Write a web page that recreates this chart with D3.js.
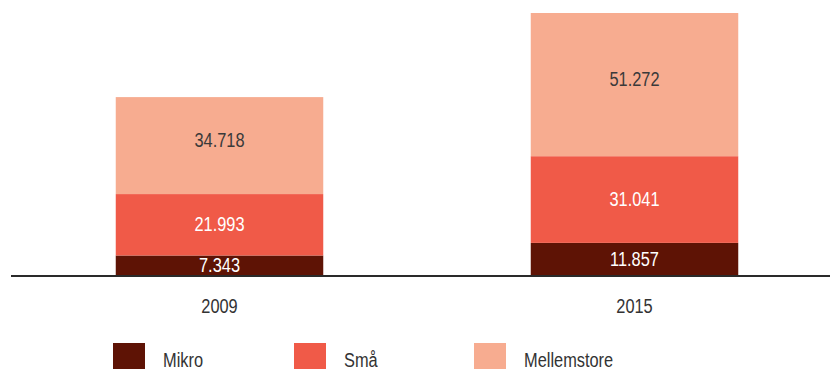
<!DOCTYPE html>
<html>
<head>
<meta charset="utf-8">
<script src="https://cdn.jsdelivr.net/npm/d3@7"></script>
<style>
  html, body { margin: 0; padding: 0; background: #fff; }
  svg { display: block; font-family: "Liberation Sans", Arial, sans-serif; }
</style>
</head>
<body>
<svg id="chart" width="830" height="369"></svg>
<script>
// Virksomheder fordelt på størrelse
const years = ["2009", "2015"];
const seriesNames = ["Mikro", "Små", "Mellemstore"];
const mikro = [7343, 11857];
const smaa = [21993, 31041];
const mellemstore = [34718, 51272];
const colors = ["#5e1305", "#f05a48", "#f7ac90"];
const labelColors = ["#ffffff", "#ffffff", "#3a3a3a"];

const fmt = v => d3.format(",")(v).replace(/,/g, ".");
const narrow = 0.78;   // horizontal squeeze for a condensed look
const fontSize = 21;

const rows = years.map((y, i) => ({ year: y, "Mikro": mikro[i], "Små": smaa[i], "Mellemstore": mellemstore[i] }));
const stacked = d3.stack().keys(seriesNames)(rows);

const svg = d3.select("#chart");
const baseline = 276;

const x = d3.scaleBand().domain(years).range([12, 842]).paddingInner(0.5).paddingOuter(0.25);
const y = d3.scaleLinear().domain([0, d3.max(rows, r => r["Mikro"] + r["Små"] + r["Mellemstore"])]).range([baseline, 13]);

// condensed text helper: places text at (tx, ty) baseline and squeezes it horizontally
function label(sel, tx, ty) {
  return sel.attr("transform", d => `translate(${tx(d)},${ty(d)}) scale(${narrow},1)`)
    .attr("font-size", fontSize);
}

// stacked bars
const layers = svg.append("g").selectAll("g").data(stacked).join("g")
  .attr("fill", (d, i) => colors[i]);

layers.selectAll("rect").data(d => d).join("rect")
  .attr("x", d => x(d.data.year))
  .attr("width", x.bandwidth())
  .attr("y", d => y(d[1]))
  .attr("height", d => y(d[0]) - y(d[1]));

// value labels inside each segment
layers.each(function (layer, li) {
  d3.select(this).selectAll("text").data(layer).join("text")
    .call(label,
      d => x(d.data.year) + x.bandwidth() / 2,
      d => (y(d[0]) + y(d[1])) / 2 + 7.5 - (li === 2 ? 6 : 1))
    .attr("text-anchor", "middle")
    .attr("fill", labelColors[li])
    .text(d => fmt(d[1] - d[0]));
});

// baseline
svg.append("line")
  .attr("x1", 11).attr("x2", 830)
  .attr("y1", baseline).attr("y2", baseline)
  .attr("stroke", "#2a2a2a").attr("stroke-width", 2);

// year labels
svg.append("g").selectAll("text").data(years).join("text")
  .call(label, d => x(d) + x.bandwidth() / 2, () => 313)
  .attr("text-anchor", "middle")
  .attr("fill", "#333")
  .text(d => d);

// legend
const legendX = [113, 294, 474];
const legend = svg.append("g").selectAll("g").data(seriesNames).join("g")
  .attr("transform", (d, i) => `translate(${legendX[i]},343)`);
legend.append("rect").attr("width", 32).attr("height", 26).attr("fill", (d, i) => colors[i]);
legend.append("text")
  .call(label, () => 50, () => 24)
  .attr("fill", "#333")
  .text(d => d);
</script>
</body>
</html>
